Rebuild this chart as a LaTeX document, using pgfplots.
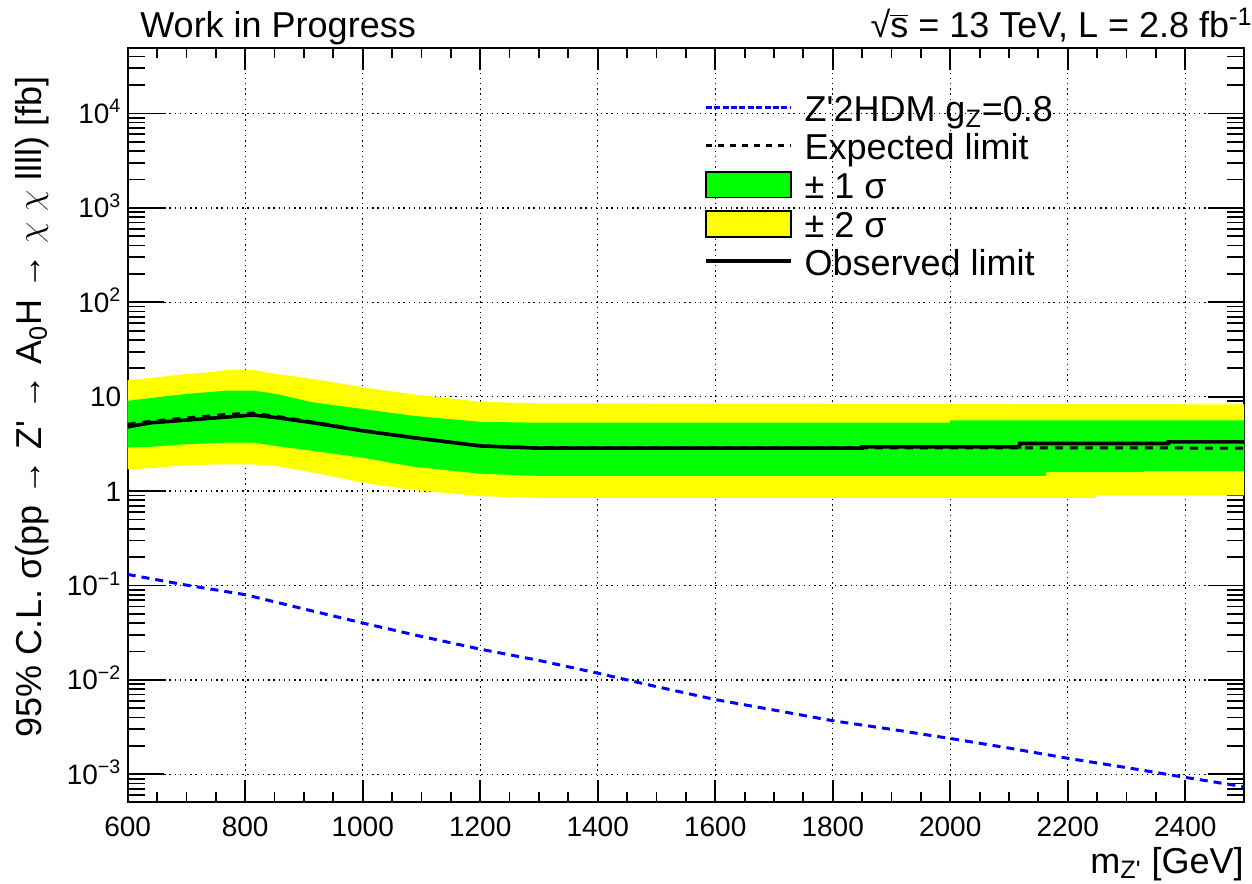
\documentclass[border=0pt]{standalone}
\usepackage{fontspec}
\setmainfont{Liberation Sans}
\usepackage{pgfplots}
\pgfplotsset{compat=1.18}
\definecolor{rgreen}{RGB}{0,255,0}
\definecolor{ryellow}{RGB}{255,255,0}
\definecolor{rblue}{RGB}{0,0,255}
\pgfplotsset{
  lineleg/.style={legend image code/.code={\draw[##1] (0pt,3.5pt) -- (42.7pt,3.5pt); \path (48.5pt,3.5pt);}},
  boxleg/.style={legend image code/.code={\draw[##1] (0pt,-3pt) rectangle (42.7pt,9.85pt); \path (48.5pt,3.5pt);}},
  rootframe/.style={
    at={(63.85pt,40.5pt)}, anchor=south west,
    scale only axis, width=558.15pt, height=376.75pt,
    xmin=600, xmax=2500, ymin=5.1e-4, ymax=4.87e4,
    axis line style={line width=1pt, black},
    tick style={black, line width=0.9pt},
    tick align=inside,
    xtick={600,800,...,2400},
    minor x tick num=3,
    ytick={1e-3,1e-2,1e-1,1,10,1e2,1e3,1e4},
    minor ytick={6e-4,7e-4,8e-4,9e-4,
      2e-3,3e-3,4e-3,5e-3,6e-3,7e-3,8e-3,9e-3,
      2e-2,3e-2,4e-2,5e-2,6e-2,7e-2,8e-2,9e-2,
      2e-1,3e-1,4e-1,5e-1,6e-1,7e-1,8e-1,9e-1,
      2,3,4,5,6,7,8,9,20,30,40,50,60,70,80,90,
      200,300,400,500,600,700,800,900,
      2e3,3e3,4e3,5e3,6e3,7e3,8e3,9e3,
      2e4,3e4,4e4},
    xticklabels={}, yticklabels={},
  }
}
\begin{document}
\begin{tikzpicture}
\useasboundingbox (0,0) rectangle (626pt,441.5pt);
% grid layer
\begin{axis}[ymode=log, rootframe, major tick length=0pt, minor tick length=0pt,
  tick label style={opacity=0},
  grid=major, major grid style={black, line width=0.7pt, dash pattern=on 0.7pt off 1.9pt}]
\end{axis}
% x ticks
\begin{axis}[ymode=log, rootframe, ytick=\empty, minor ytick={}, major tick length=11pt, minor tick length=5pt,
  xticklabels={600,800,1000,1200,1400,1600,1800,2000,2200,2400},
  xticklabel style={font=\fontsize{14}{14}\selectfont, anchor=base, inner sep=0pt, yshift=-17pt}]
\end{axis}
% y ticks + data
\begin{axis}[ymode=log, rootframe, xtick=\empty, minor xtick={}, major tick length=18pt, minor tick length=8.5pt,
  xticklabel style={opacity=0},
  yticklabels={10\textsuperscript{−3},10\textsuperscript{−2},10\textsuperscript{−1},1,10,10\textsuperscript{2},10\textsuperscript{3},10\textsuperscript{4}},
  yticklabel style={font=\fontsize{14}{14}\selectfont, anchor=base east, inner sep=0pt, xshift=-3pt, yshift=-5pt},
  legend style={at={(0.5163,0.9370)}, anchor=north west, draw=none, fill=none,
    inner sep=0pt, outer sep=0pt, row sep=0pt,
    font=\fontsize{18}{18}\selectfont,
    nodes={inner sep=0pt, text height=13pt, text depth=5.75pt}},
  legend cell align=left]
% 2 sigma band (upper edge left to right, then lower edge right to left)
\addplot[fill=ryellow, draw=none, forget plot] coordinates {
 (600,15.0)(640,15.8)(700,17.4)(740,18.2)(770,19.2)(813,19.2)(853,17.4)(915,15.4)
 (1000,12.6)(1085,10.6)(1200,8.85)(1300,8.5)(2500,8.3)
 (2500,0.90)(2248,0.90)(2248,0.85)(1300,0.85)(1200,0.885)(1085,1.03)(1000,1.23)
 (915,1.57)(853,1.85)(813,1.92)(770,1.92)(700,1.89)(640,1.75)(600,1.70)};
% 1 sigma band
\addplot[fill=rgreen, draw=none, forget plot] coordinates {
 (600,9.06)(640,9.7)(700,10.7)(770,11.6)(813,11.6)(853,10.7)(915,8.7)
 (1000,7.4)(1085,6.28)(1200,5.42)(1300,5.3)(2000,5.3)(2000,5.6)(2500,5.6)
 (2500,1.64)(2330,1.64)(2330,1.59)(2163,1.59)(2163,1.45)(1300,1.45)(1200,1.53)
 (1085,1.82)(1000,2.26)(915,2.67)(853,3.0)(813,3.27)(770,3.27)(700,3.14)(640,2.95)(600,2.89)};
% expected
\addplot[black, line width=1.5pt, dash pattern=on 4pt off 3.5pt, forget plot] coordinates {
 (600,5.1)(640,5.5)(700,5.95)(770,6.5)(813,6.7)(853,6.2)(915,5.4)
 (1000,4.4)(1085,3.68)(1200,3.01)(1300,2.88)(2500,2.86)};
% observed
\addplot[black, line width=1.8pt, forget plot] coordinates {
 (600,4.8)(640,5.3)(700,5.65)(770,6.1)(813,6.4)(853,6.0)(915,5.3)
 (1000,4.35)(1085,3.69)(1200,3.01)(1300,2.85)(1850,2.85)(1850,2.94)(2118,2.94)
 (2118,3.19)(2371,3.19)(2371,3.32)(2500,3.32)};
% Z'2HDM
\addplot[rblue, line width=1.5pt, dash pattern=on 4pt off 3pt, forget plot] coordinates {
 (600,0.131)(700,0.101)(800,0.080)(900,0.0565)(1000,0.0401)(1100,0.0289)
 (1200,0.0212)(1300,0.0161)(1400,0.0118)(1500,0.0085)(1600,0.0062)(1700,0.0048)
 (1800,0.0037)(1900,0.0030)(2000,0.0024)(2100,0.0019)(2200,0.00148)(2300,0.00118)
 (2400,0.00093)(2500,0.00074)};
% legend
\addlegendimage{rblue, line width=1.5pt, dash pattern=on 3pt off 1.2pt, lineleg}
\addlegendentry{Z\textquotesingle 2HDM g\textsubscript{Z}=0.8}
\addlegendimage{black, line width=1.5pt, dash pattern=on 3pt off 3pt, lineleg}
\addlegendentry{Expected limit}
\addlegendimage{fill=rgreen, draw=black, line width=0.8pt, boxleg}
\addlegendentry{± 1 σ}
\addlegendimage{fill=ryellow, draw=black, line width=0.8pt, boxleg}
\addlegendentry{± 2 σ}
\addlegendimage{black, line width=1.8pt, lineleg}
\addlegendentry{Observed limit}
\end{axis}
% texts
\node[anchor=base west, inner sep=0pt, font=\fontsize{18}{18}\selectfont] at (70pt,422.5pt) {Work in Progress};
\node[anchor=base east, inner sep=0pt, font=\fontsize{18}{18}\selectfont] at (626.5pt,422.5pt) {√$\overline{\hbox{s}}$ = 13 TeV, L = 2.8 fb\textsuperscript{-1}};
\node[anchor=base east, inner sep=0pt, font=\fontsize{18}{18}\selectfont] at (622pt,5pt) {m\textsubscript{Z\textquotesingle} [GeV]};
\node[rotate=90, inner sep=0pt, font=\fontsize{18}{18}\selectfont] at (16pt,238pt) {95\% C.L. σ(pp → Z\textquotesingle{} → A\textsubscript{0}H → $\chi$ $\chi$ llll) [fb]};
\end{tikzpicture}
\end{document}
